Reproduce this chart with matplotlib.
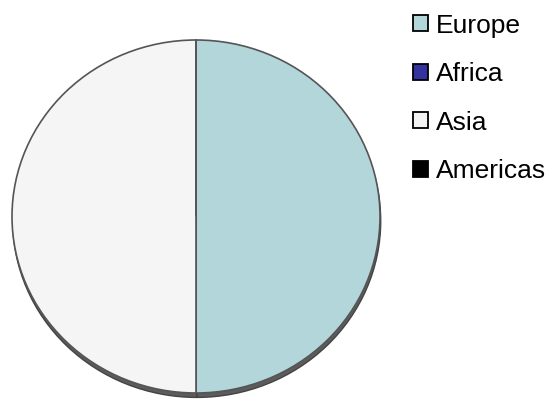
import matplotlib.pyplot as plt
from matplotlib.patches import Patch

plt.rcParams['font.family'] = ['Liberation Sans', 'DejaVu Sans']

# data
regions = ['Europe', 'Africa', 'Asia', 'Americas']
shares = [50, 0, 50, 0]
colors = ['#b3d6db', '#3333a0', '#f5f5f5', '#000000']

W, H = 557, 401
fig = plt.figure(figsize=(W / 100, H / 100), dpi=100)

# pie box in pixels (slightly squashed, like the original)
cx, cy = 196, 216.5
rx, ry = 184, 176.5
pad = 1.05
ax = fig.add_axes([(cx - rx * pad) / W, (H - cy - ry * pad) / H,
                   2 * rx * pad / W, 2 * ry * pad / H])

# shadow under the pie
ax.pie(shares, startangle=90, counterclock=False, radius=1, center=(0.004, -0.025),
       colors=['#5c5c5c'] * len(shares),
       wedgeprops=dict(edgecolor='#444444', linewidth=1.0))
# the pie itself
ax.pie(shares, startangle=90, counterclock=False, radius=1, colors=colors,
       wedgeprops=dict(edgecolor='#555555', linewidth=1.2))
ax.set_aspect('auto')
ax.set_xlim(-pad, pad)
ax.set_ylim(-pad, pad)
for p in ax.patches:
    p.set_clip_on(False)

handles = [Patch(facecolor=c, edgecolor='black', linewidth=1.3) for c in colors]
fig.legend(handles, regions, loc='upper left', bbox_to_anchor=(402 / W, 1 - 3 / H),
           frameon=False, fontsize=19, handlelength=0.57, handleheight=0.57,
           handletextpad=0.3, labelspacing=0.93, borderaxespad=0)

fig.savefig('out.png', dpi=100)
